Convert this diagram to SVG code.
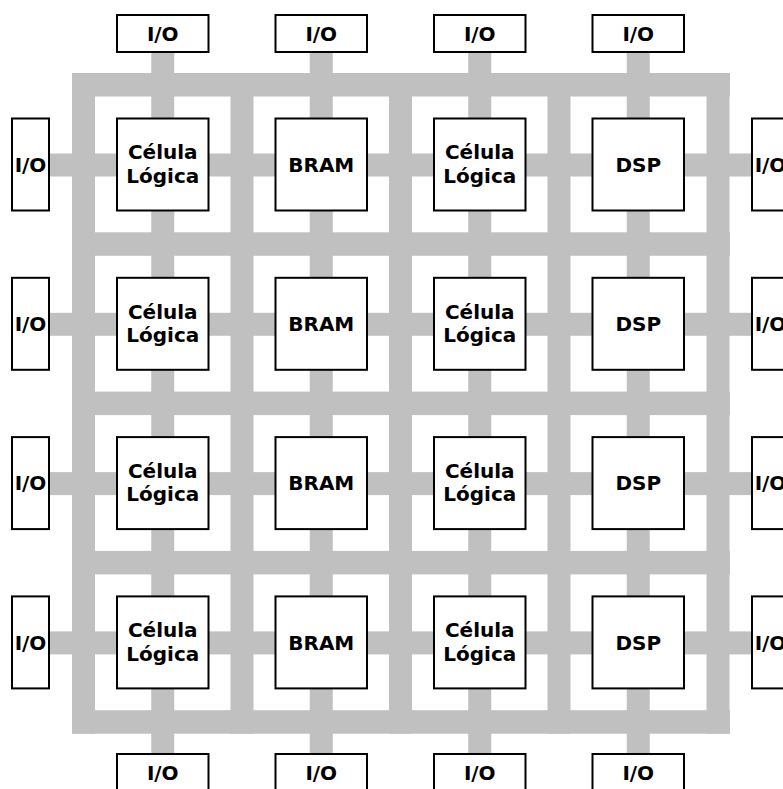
<svg xmlns="http://www.w3.org/2000/svg" width="783" height="789" viewBox="0 0 783 789">
<style>
.bus{fill:#c0c0c0}
.box{fill:#fff;stroke:#000;stroke-width:2}
.t{font-family:"DejaVu Sans","Liberation Sans",sans-serif;font-weight:bold;font-size:20px;text-anchor:middle;fill:#000}
</style>
<rect width="783" height="789" fill="#fff"/>
<g id="connectors">
<!-- routing channels -->
<rect class="bus" x="72" y="73" width="658" height="23.5"/>
<rect class="bus" x="72" y="232.3" width="658" height="23.5"/>
<rect class="bus" x="72" y="391.6" width="658" height="23.5"/>
<rect class="bus" x="72" y="550.9" width="658" height="23.5"/>
<rect class="bus" x="72" y="710.2" width="658" height="23.5"/>
<rect class="bus" x="72" y="73" width="23" height="660.7"/>
<rect class="bus" x="230.5" y="73" width="23" height="660.7"/>
<rect class="bus" x="389" y="73" width="23" height="660.7"/>
<rect class="bus" x="547.5" y="73" width="23" height="660.7"/>
<rect class="bus" x="706.5" y="73" width="23" height="660.7"/>
<!-- row/column links -->
<rect class="bus" x="49" y="153.5" width="703" height="23"/>
<rect class="bus" x="49" y="312.8" width="703" height="23"/>
<rect class="bus" x="49" y="472.1" width="703" height="23"/>
<rect class="bus" x="49" y="631.4" width="703" height="23"/>
<rect class="bus" x="151.25" y="52" width="23" height="702"/>
<rect class="bus" x="309.75" y="52" width="23" height="702"/>
<rect class="bus" x="468.25" y="52" width="23" height="702"/>
<rect class="bus" x="626.75" y="52" width="23" height="702"/>
</g>
<g id="io-top">
<g id="io-t1"><rect class="box" x="117" y="15" width="91.5" height="37"/><text class="t" x="162.75" y="41">I/O</text></g>
<g id="io-t2"><rect class="box" x="275.5" y="15" width="91.5" height="37"/><text class="t" x="321.25" y="41">I/O</text></g>
<g id="io-t3"><rect class="box" x="434" y="15" width="91.5" height="37"/><text class="t" x="479.75" y="41">I/O</text></g>
<g id="io-t4"><rect class="box" x="592.5" y="15" width="91.5" height="37"/><text class="t" x="638.25" y="41">I/O</text></g>
</g>
<g id="io-bottom">
<g id="io-b1"><rect class="box" x="117" y="754" width="91.5" height="40"/><text class="t" x="162.75" y="780">I/O</text></g>
<g id="io-b2"><rect class="box" x="275.5" y="754" width="91.5" height="40"/><text class="t" x="321.25" y="780">I/O</text></g>
<g id="io-b3"><rect class="box" x="434" y="754" width="91.5" height="40"/><text class="t" x="479.75" y="780">I/O</text></g>
<g id="io-b4"><rect class="box" x="592.5" y="754" width="91.5" height="40"/><text class="t" x="638.25" y="780">I/O</text></g>
</g>
<g id="io-left">
<g id="io-l1"><rect class="box" x="12" y="118.5" width="37" height="92"/><text class="t" x="30.5" y="171.8">I/O</text></g>
<g id="io-l2"><rect class="box" x="12" y="277.8" width="37" height="92"/><text class="t" x="30.5" y="331.1">I/O</text></g>
<g id="io-l3"><rect class="box" x="12" y="437.1" width="37" height="92"/><text class="t" x="30.5" y="490.4">I/O</text></g>
<g id="io-l4"><rect class="box" x="12" y="596.4" width="37" height="92"/><text class="t" x="30.5" y="649.7">I/O</text></g>
</g>
<g id="io-right">
<g id="io-r1"><rect class="box" x="752" y="118.5" width="40" height="92"/><text class="t" x="770.5" y="171.8">I/O</text></g>
<g id="io-r2"><rect class="box" x="752" y="277.8" width="40" height="92"/><text class="t" x="770.5" y="331.1">I/O</text></g>
<g id="io-r3"><rect class="box" x="752" y="437.1" width="40" height="92"/><text class="t" x="770.5" y="490.4">I/O</text></g>
<g id="io-r4"><rect class="box" x="752" y="596.4" width="40" height="92"/><text class="t" x="770.5" y="649.7">I/O</text></g>
</g>
<!-- row 1 -->
<g id="cl-1-1"><rect class="box" x="117" y="118.5" width="91.5" height="92"/><text class="t" x="162.75" y="159.3">Célula</text><text class="t" x="162.75" y="182.7">Lógica</text></g>
<g id="bram-1"><rect class="box" x="275.5" y="118.5" width="91.5" height="92"/><text class="t" x="321.25" y="171.8">BRAM</text></g>
<g id="cl-1-3"><rect class="box" x="434" y="118.5" width="91.5" height="92"/><text class="t" x="479.75" y="159.3">Célula</text><text class="t" x="479.75" y="182.7">Lógica</text></g>
<g id="dsp-1"><rect class="box" x="592.5" y="118.5" width="91.5" height="92"/><text class="t" x="638.25" y="171.8">DSP</text></g>
<!-- row 2 -->
<g id="cl-2-1"><rect class="box" x="117" y="277.8" width="91.5" height="92"/><text class="t" x="162.75" y="318.6">Célula</text><text class="t" x="162.75" y="342">Lógica</text></g>
<g id="bram-2"><rect class="box" x="275.5" y="277.8" width="91.5" height="92"/><text class="t" x="321.25" y="331.1">BRAM</text></g>
<g id="cl-2-3"><rect class="box" x="434" y="277.8" width="91.5" height="92"/><text class="t" x="479.75" y="318.6">Célula</text><text class="t" x="479.75" y="342">Lógica</text></g>
<g id="dsp-2"><rect class="box" x="592.5" y="277.8" width="91.5" height="92"/><text class="t" x="638.25" y="331.1">DSP</text></g>
<!-- row 3 -->
<g id="cl-3-1"><rect class="box" x="117" y="437.1" width="91.5" height="92"/><text class="t" x="162.75" y="477.9">Célula</text><text class="t" x="162.75" y="501.3">Lógica</text></g>
<g id="bram-3"><rect class="box" x="275.5" y="437.1" width="91.5" height="92"/><text class="t" x="321.25" y="490.4">BRAM</text></g>
<g id="cl-3-3"><rect class="box" x="434" y="437.1" width="91.5" height="92"/><text class="t" x="479.75" y="477.9">Célula</text><text class="t" x="479.75" y="501.3">Lógica</text></g>
<g id="dsp-3"><rect class="box" x="592.5" y="437.1" width="91.5" height="92"/><text class="t" x="638.25" y="490.4">DSP</text></g>
<!-- row 4 -->
<g id="cl-4-1"><rect class="box" x="117" y="596.4" width="91.5" height="92"/><text class="t" x="162.75" y="637.2">Célula</text><text class="t" x="162.75" y="660.6">Lógica</text></g>
<g id="bram-4"><rect class="box" x="275.5" y="596.4" width="91.5" height="92"/><text class="t" x="321.25" y="649.7">BRAM</text></g>
<g id="cl-4-3"><rect class="box" x="434" y="596.4" width="91.5" height="92"/><text class="t" x="479.75" y="637.2">Célula</text><text class="t" x="479.75" y="660.6">Lógica</text></g>
<g id="dsp-4"><rect class="box" x="592.5" y="596.4" width="91.5" height="92"/><text class="t" x="638.25" y="649.7">DSP</text></g>
</svg>
